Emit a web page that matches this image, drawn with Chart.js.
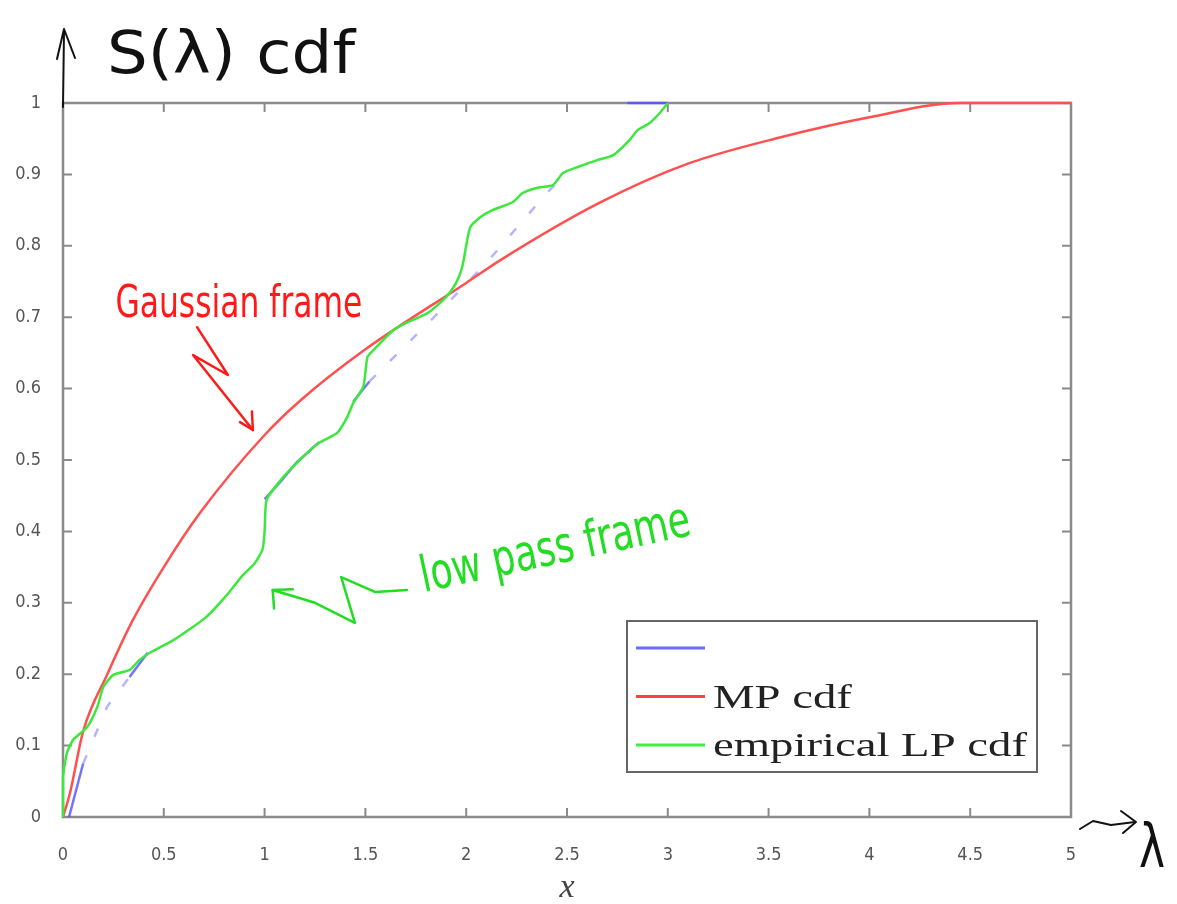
<!DOCTYPE html>
<html>
<head>
<meta charset="utf-8">
<script src="https://cdn.jsdelivr.net/npm/chart.js@4.4.1/dist/chart.umd.min.js"></script>
<style>
  html, body { margin: 0; background: #fff; }
  canvas { display: block; }
</style>
</head>
<body>
<canvas id="cdfChart" width="1177" height="904"></canvas>
<script>
// MP cdf (theory)
const mpX = [0, 0.035, 0.1, 0.22, 0.347, 0.5, 0.68, 1.0, 1.176, 1.5, 2.0, 2.17, 2.66, 3.1, 3.56, 4.0, 4.45, 5.0];
const mpY = [0, 0.034, 0.12, 0.2, 0.276, 0.35, 0.426, 0.535, 0.583, 0.655, 0.748, 0.78, 0.86, 0.915, 0.952, 0.98, 1.0, 1.0];

// empirical LP cdf (low pass frame)
const lpX = [0, 0, 0.02, 0.05, 0.12, 0.17, 0.2, 0.25, 0.33, 0.38, 0.43, 0.55, 0.71, 0.81, 0.89, 0.95, 0.99, 1.0, 1.01, 1.08, 1.16, 1.27, 1.36, 1.41, 1.44, 1.49, 1.51, 1.54, 1.64, 1.71, 1.81, 1.9, 1.95, 1.98, 2.0, 2.02, 2.07, 2.13, 2.23, 2.28, 2.35, 2.43, 2.48, 2.55, 2.65, 2.73, 2.81, 2.85, 2.91, 2.96, 3.0];
const lpY = [0, 0.056, 0.09, 0.108, 0.126, 0.154, 0.182, 0.199, 0.206, 0.22, 0.23, 0.248, 0.28, 0.31, 0.338, 0.355, 0.375, 0.40, 0.444, 0.472, 0.496, 0.524, 0.538, 0.56, 0.58, 0.603, 0.644, 0.654, 0.682, 0.693, 0.706, 0.728, 0.748, 0.77, 0.80, 0.826, 0.84, 0.85, 0.861, 0.874, 0.881, 0.885, 0.902, 0.91, 0.92, 0.927, 0.948, 0.962, 0.972, 0.986, 1.0];

// first (blue) curve, mostly hidden under the green one; null = gap
const blueX = [0.03, 0.1, 0.22, 0.33, 0.42, 0.7, 1.0, 1.08, 1.16, 1.2, 1.27, 1.35, 1.44, 1.52, 1.84, 2.1, 2.4, 2.5, 2.6, 2.8, 3.0];
const blueY = [0, 0.075, 0.155, 0.196, 0.23, null, 0.445, 0.47, 0.497, 0.507, 0.525, null, 0.582, 0.61, 0.70, 0.776, 0.874, 0.903, null, 1.0, 1.0];

const xTicks = [0, 0.5, 1, 1.5, 2, 2.5, 3, 3.5, 4, 4.5, 5];
const yTicks = [0, 0.1, 0.2, 0.3, 0.4, 0.5, 0.6, 0.7, 0.8, 0.9, 1];

const legendLabels = ['', 'MP cdf', 'empirical LP cdf'];

const toPoints = (xs, ys) => xs.map((x, i) => ({ x: x, y: ys[i] }));
const fmt = v => String(Math.round(v * 10) / 10);

const HAND = '"Liberation Sans Narrow", "DejaVu Sans Condensed", sans-serif';

function fitText(ctx, text, x, y, width, size, color, angle) {
    ctx.save();
    ctx.font = size + 'px ' + HAND;
    const w = ctx.measureText(text).width;
    ctx.translate(x, y);
    if (angle) ctx.rotate(angle);
    ctx.scale(width / w, 1);
    ctx.fillStyle = color;
    ctx.textBaseline = 'alphabetic';
    ctx.fillText(text, 0, 0);
    ctx.restore();
}

function polyline(ctx, pts, color, width) {
    ctx.save();
    ctx.strokeStyle = color;
    ctx.lineWidth = width;
    ctx.lineCap = 'round';
    ctx.lineJoin = 'round';
    ctx.beginPath();
    pts.forEach((p, i) => i ? ctx.lineTo(p[0], p[1]) : ctx.moveTo(p[0], p[1]));
    ctx.stroke();
    ctx.restore();
}

// box, inward ticks
const framePlugin = {
    id: 'frame',
    beforeDatasetsDraw(chart) {
        const { ctx, chartArea: a, scales } = chart;
        ctx.save();
        ctx.strokeStyle = '#8a8a8a';
        ctx.lineWidth = 2.5;
        ctx.strokeRect(a.left, a.top, a.right - a.left, a.bottom - a.top);
        ctx.lineWidth = 2;
        ctx.beginPath();
        xTicks.forEach(v => {
            const px = scales.x.getPixelForValue(v);
            ctx.moveTo(px, a.bottom); ctx.lineTo(px, a.bottom - 9);
            ctx.moveTo(px, a.top); ctx.lineTo(px, a.top + 9);
        });
        yTicks.forEach(v => {
            const py = scales.y.getPixelForValue(v);
            ctx.moveTo(a.left, py); ctx.lineTo(a.left + 9, py);
            ctx.moveTo(a.right, py); ctx.lineTo(a.right - 9, py);
        });
        ctx.stroke();
        ctx.restore();
    }
};

// legend box + handwritten notes
const notesPlugin = {
    id: 'notes',
    afterDraw(chart) {
        const { ctx, chartArea: a, scales } = chart;
        const X = v => scales.x.getPixelForValue(v);
        const Y = v => scales.y.getPixelForValue(v);

        // legend (south east)
        const bw = 410, bh = 151;
        const bx = a.right - 34 - bw, by = a.bottom - 45 - bh;
        ctx.save();
        ctx.fillStyle = '#fff';
        ctx.fillRect(bx, by, bw, bh);
        ctx.strokeStyle = '#666';
        ctx.lineWidth = 2;
        ctx.strokeRect(bx, by, bw, bh);
        const legendColors = ['#6a6aff', '#ff4040', '#40ee40'];
        chart.data.datasets.forEach((ds, i) => {
            const ry = by + 27 + i * 48.5;
            ctx.strokeStyle = legendColors[i];
            ctx.lineWidth = 3;
            ctx.beginPath();
            ctx.moveTo(bx + 9, ry); ctx.lineTo(bx + 78, ry);
            ctx.stroke();
            if (ds.label) {
                ctx.font = '33px "Liberation Serif", "DejaVu Serif", serif';
                const w = ctx.measureText('empirical LP cdf').width;
                ctx.save();
                ctx.translate(bx + 86, ry + 11);
                ctx.scale(314 / w, 1);
                ctx.fillStyle = '#222';
                ctx.fillText(ds.label, 0, 0);
                ctx.restore();
            }
        });
        ctx.restore();

        // y arrow and "S(λ) cdf"
        polyline(ctx, [[a.left, a.top + 4], [a.left + 1, a.top - 72]], '#111', 2);
        polyline(ctx, [[a.left - 6, a.top - 44], [a.left + 1, a.top - 74], [a.left + 12, a.top - 45]], '#111', 2);
        fitText(ctx, 'S(λ) cdf', a.left + 44, a.top - 30, 248, 58, '#111');

        // x arrow and λ
        polyline(ctx, [[a.right + 9, a.bottom + 12], [a.right + 22, a.bottom + 4], [a.right + 40, a.bottom + 8], [a.right + 64, a.bottom + 5]], '#111', 2);
        polyline(ctx, [[a.right + 50, a.bottom - 6], [a.right + 65, a.bottom + 5], [a.right + 52, a.bottom + 16]], '#111', 2);
        fitText(ctx, 'λ', a.right + 68, a.bottom + 50, 26, 60, '#111');

        // Gaussian frame note
        fitText(ctx, 'Gaussian frame', X(0.26), Y(0.70), 247, 44, '#ff1a1a');
        polyline(ctx, [[X(0.665), Y(0.686)], [X(0.818), Y(0.619)], [X(0.645), Y(0.647)], [X(0.942), Y(0.542)]], '#ff1a1a', 2.5);
        polyline(ctx, [[X(0.878), Y(0.553)], [X(0.942), Y(0.542)], [X(0.937), Y(0.568)]], '#ff1a1a', 2.5);

        // low pass frame note
        fitText(ctx, 'low pass frame', X(1.79), Y(0.315), 275, 50, '#22dd22', -0.21);
        polyline(ctx, [[X(1.706), Y(0.318)], [X(1.55), Y(0.315)], [X(1.38), Y(0.336)], [X(1.448), Y(0.272)], [X(1.25), Y(0.30)], [X(1.04), Y(0.318)]], '#22dd22', 2.5);
        polyline(ctx, [[X(1.14), Y(0.319)], [X(1.04), Y(0.318)], [X(1.047), Y(0.292)]], '#22dd22', 2.5);
    }
};

// long rising stretches of the blue curve look faded/dashed
const longSeg = c => (c.p1.parsed.x - c.p0.parsed.x) > 0.1 && c.p1.parsed.y > c.p0.parsed.y;

const ctx = document.getElementById('cdfChart').getContext('2d');

const cdfChart = new Chart(ctx, {
    type: 'line',
    data: {
        datasets: [
            {
                label: legendLabels[0],
                data: toPoints(blueX, blueY),
                borderColor: 'rgba(80, 80, 255, 0.8)',
                borderWidth: 2.5,
                spanGaps: false,
                pointRadius: 0,
                segment: {
                    borderDash: c => longSeg(c) ? [9, 20] : undefined,
                    borderColor: c => longSeg(c) ? 'rgba(90, 90, 255, 0.45)' : undefined
                },
                order: 3
            },
            {
                label: legendLabels[1],
                data: toPoints(mpX, mpY),
                borderColor: '#ff5050',
                borderWidth: 2.5,
                cubicInterpolationMode: 'monotone',
                pointRadius: 0,
                order: 2
            },
            {
                label: legendLabels[2],
                data: toPoints(lpX, lpY),
                borderColor: '#3de83d',
                borderWidth: 2.5,
                tension: 0.2,
                pointRadius: 0,
                order: 1
            }
        ]
    },
    options: {
        responsive: false,
        animation: false,
        clip: 4,
        layout: { padding: { left: 0, top: 103, right: 106, bottom: 0 } },
        plugins: {
            legend: { display: false },
            tooltip: { enabled: false }
        },
        scales: {
            x: {
                type: 'linear',
                min: 0,
                max: 5,
                afterFit: s => { s.height = 87; },
                afterBuildTicks: s => { s.ticks = xTicks.map(v => ({ value: v })); },
                border: { display: false },
                grid: { display: false },
                ticks: {
                    padding: 20,
                    color: '#555',
                    font: { family: '"Liberation Sans Narrow", "DejaVu Sans Condensed", sans-serif', size: 18 },
                    callback: v => fmt(v)
                },
                title: {
                    display: true,
                    text: 'x',
                    color: '#444',
                    padding: { top: 0, bottom: -4 },
                    font: { family: '"Liberation Serif", serif', style: 'italic', size: 34 }
                }
            },
            y: {
                type: 'linear',
                min: 0,
                max: 1,
                afterFit: s => { s.width = 63; },
                afterBuildTicks: s => { s.ticks = yTicks.map(v => ({ value: v })); },
                border: { display: false },
                grid: { display: false },
                ticks: {
                    padding: 14,
                    color: '#555',
                    font: { family: '"Liberation Sans Narrow", "DejaVu Sans Condensed", sans-serif', size: 18 },
                    callback: v => fmt(v)
                }
            }
        }
    },
    plugins: [framePlugin, notesPlugin]
});
</script>
</body>
</html>
